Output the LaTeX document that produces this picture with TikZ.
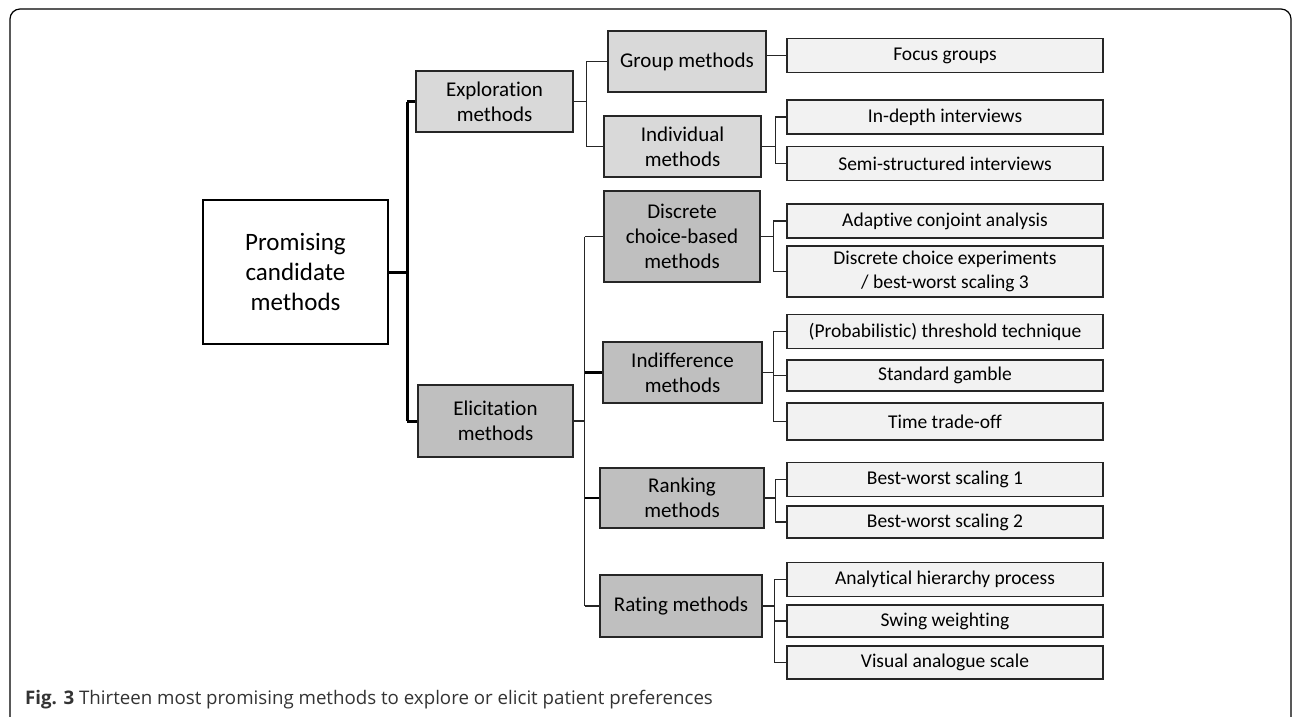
\documentclass[tikz,border=0pt]{standalone}
\usepackage{fontspec}
\setmainfont{Carlito}[Ligatures=NoCommon]
\newfontfamily\capfont{Open Sans}
\usetikzlibrary{positioning}
\definecolor{explgrey}{HTML}{D9D9D9}
\definecolor{elicgrey}{HTML}{BFBFBF}
\definecolor{leafgrey}{HTML}{F2F2F2}
\definecolor{edgegrey}{HTML}{262626}
\definecolor{capgrey}{HTML}{333333}

\begin{document}
\begin{tikzpicture}[x=1pt,y=-1pt,
    root node/.style={rectangle,draw=black,line width=2pt,fill=white,align=center,
      minimum width=185pt,minimum height=144pt,font=\fontsize{25}{30}\selectfont},
    mid node/.style={rectangle,draw=edgegrey,line width=1.6pt,align=center,inner sep=2pt,
      minimum width=157pt,minimum height=61pt,font=\fontsize{21}{25}\selectfont},
    leaf node/.style={rectangle,draw=edgegrey,line width=1.6pt,fill=leafgrey,align=center,
      inner sep=1pt,minimum width=316pt,minimum height=34pt,font=\fontsize{19.5}{24}\selectfont},
    link/.style={draw=edgegrey,line width=1.3pt},
    trunk/.style={draw=black,line width=3pt},
    bold link/.style={draw=black,line width=2.6pt}]
   \useasboundingbox (0,0) rectangle (1295,716);

   % frame
   \draw[line width=1.2pt,rounded corners=10pt] (10,722) -- (10,9) -- (1291,9) -- (1291,722);

   % root and its two branches
   \node[root node] (root) at (295.5,272) {Promising\\candidate\\methods};
   \node[mid node,fill=explgrey] (expl) at (494.5,101.5) {Exploration\\methods};
   \node[mid node,fill=elicgrey,minimum width=155pt,minimum height=72pt] (elic) at (495.5,421) {Elicitation\\methods};
   \draw[trunk] (root.east) -- ++(18,0) coordinate (rbus);
   \draw[trunk] (rbus |- expl.west) -- (rbus |- elic.west);
   \draw[trunk] (rbus |- expl.west) -- (expl.west);
   \draw[trunk] (rbus |- elic.west) -- (elic.west);

   % exploration methods
   \node[mid node,fill=explgrey,minimum width=158pt] (group) at (687,61.5) {Group methods};
   \node[mid node,fill=explgrey] (indiv) at (682.5,146.5) {Individual\\methods};
   \draw[link] (expl.east) -- ++(13,0) |- (group.west);
   \draw[link] (expl.east) -- ++(13,0) |- (indiv.west);

   \node[leaf node] (focus) at (945,55.5) {Focus groups};
   \node[leaf node] (indepth) at (945,117) {In-depth interviews};
   \node[leaf node] (semi) at (945,163.5) {Semi-structured interviews};
   \draw[link] (group.east |- focus.west) -- (focus.west);
   \draw[link] (indiv.east) -- ++(14,0) |- (indepth.west);
   \draw[link] (indiv.east) -- ++(14,0) |- (semi.west);

   % elicitation methods
   \node[mid node,fill=elicgrey,minimum width=156pt,minimum height=91pt] (discr) at (682,236.5) {Discrete\\choice-based\\methods};
   \node[mid node,fill=elicgrey,minimum width=159pt] (indif) at (682.5,372.5) {Indifference\\methods};
   \node[mid node,fill=elicgrey,minimum width=164pt,minimum height=60pt] (rank) at (682,498) {Ranking\\methods};
   \node[mid node,fill=elicgrey,minimum width=162pt,minimum height=62pt] (rate) at (681,606) {Rating methods};
   \draw[link] (elic.east) -- ++(11,0) coordinate (ebus);
   \draw[link] (ebus |- discr.west) -- (ebus |- rate.west);
   \draw[link] (ebus |- discr.west) -- (discr.west);
   \draw[bold link] (ebus |- indif.west) -- (indif.west);
   \draw[bold link] (ebus |- rank.west) -- (rank.west);
   \draw[link] (ebus |- rate.west) -- (rate.west);

   \node[leaf node] (adapt) at (945,221) {Adaptive conjoint analysis};
   \node[leaf node,minimum height=51pt] (dce) at (945,271.5) {Discrete choice experiments\\/ best-worst scaling 3};
   \draw[link] (discr.east) -- ++(13,0) |- (adapt.west);
   \draw[link] (discr.east) -- ++(13,0) |- (dce.west);

   \node[leaf node] (thresh) at (945,331.5) {(Probabilistic) threshold technique};
   \node[leaf node,minimum height=31pt] (gamble) at (945,375.5) {Standard gamble};
   \node[leaf node,minimum height=37pt] (tto) at (945,421.5) {Time trade-off};
   \draw[link] (indif.east) -- ++(11,0) |- (thresh.west);
   \draw[link] (indif.east) -- ++(11,0) |- (gamble.west);
   \draw[link] (indif.east) -- ++(11,0) |- (tto.west);

   \node[leaf node] (bws1) at (945,479.5) {Best-worst scaling 1};
   \node[leaf node,minimum height=32pt] (bws2) at (945,522) {Best-worst scaling 2};
   \draw[link] (rank.east) -- ++(11,0) |- (bws1.west);
   \draw[link] (rank.east) -- ++(11,0) |- (bws2.west);

   \node[leaf node] (ahp) at (945,579.5) {Analytical hierarchy process};
   \node[leaf node,minimum height=32pt] (swing) at (945,621) {Swing weighting};
   \node[leaf node,minimum height=33pt] (vas) at (945,662.5) {Visual analogue scale};
   \draw[link] (rate.east) -- ++(12,0) |- (ahp.west);
   \draw[link] (rate.east) -- ++(12,0) |- (swing.west);
   \draw[link] (rate.east) -- ++(12,0) |- (vas.west);

   % caption
   \node[anchor=base west,inner sep=0pt,text=capgrey,font=\capfont\fontsize{18.7}{22}\selectfont] (caption) at (25,704)
     {\textbf{Fig. 3} Thirteen most promising methods to explore or elicit patient preferences};
\end{tikzpicture}
\end{document}
